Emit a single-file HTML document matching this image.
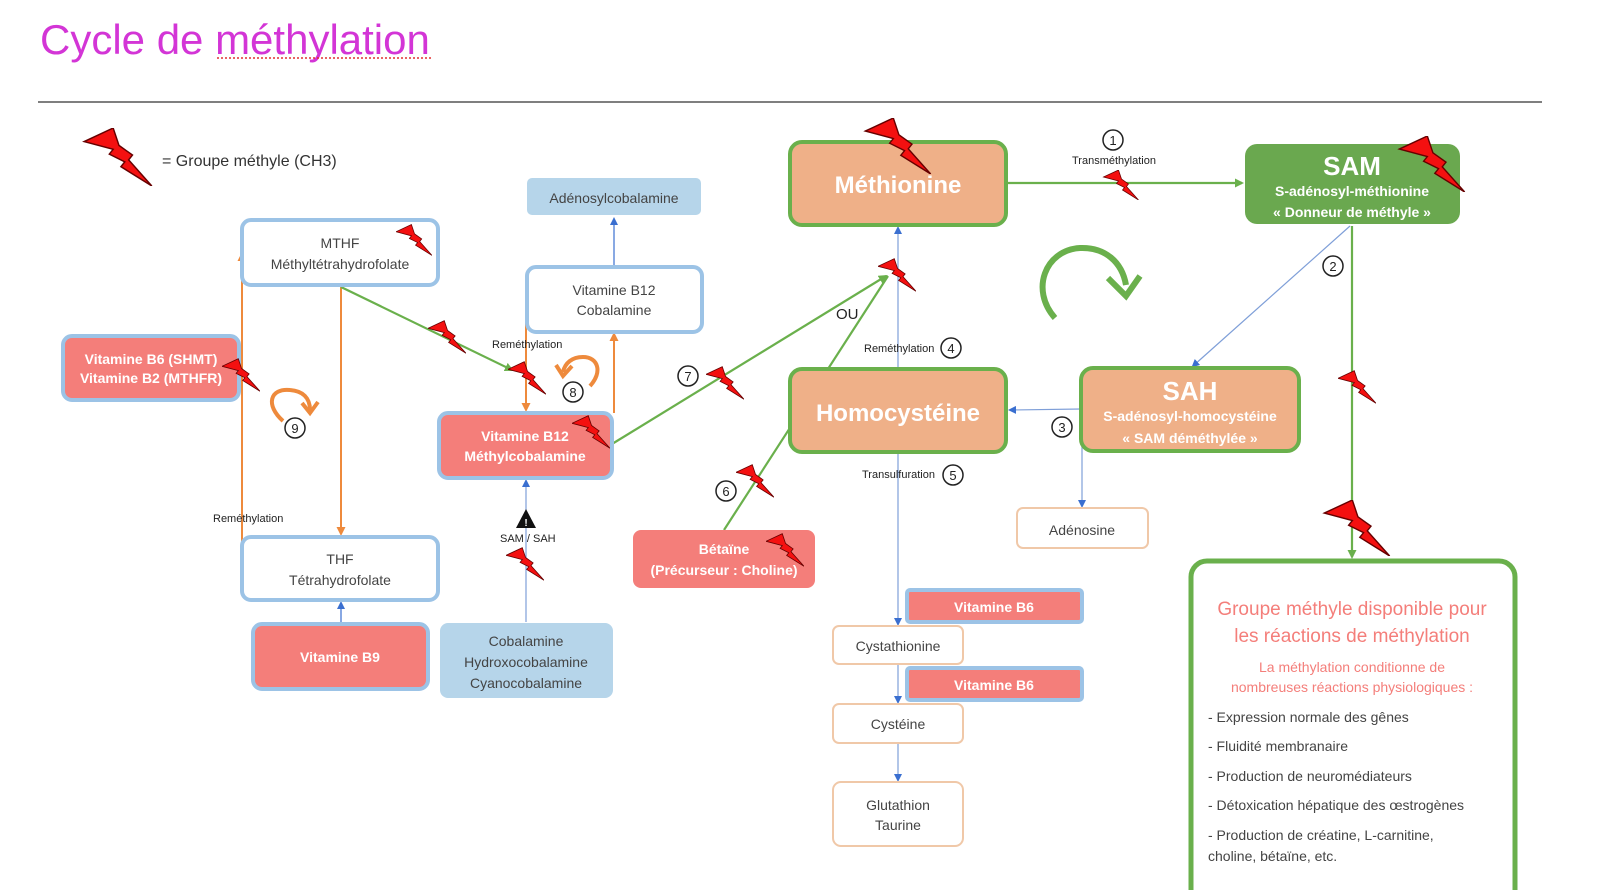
<!DOCTYPE html>
<html><head><meta charset="utf-8">
<style>
html,body{margin:0;padding:0;background:#fff;}
svg{display:block;font-family:"Liberation Sans",sans-serif;}
.t{font-size:14px;fill:#444;text-anchor:middle;}
.w{font-size:14px;fill:#fff;text-anchor:middle;font-weight:bold;}
.s{font-size:11px;fill:#222;}
.n{font-size:13px;fill:#222;text-anchor:middle;}
</style></head><body>
<svg width="1600" height="890" viewBox="0 0 1600 890" xmlns="http://www.w3.org/2000/svg">
<defs>
<symbol id="b" viewBox="0 0 70 60"><polygon points="0,14 30,0 36,18 50,28 46,33 70,60 38,40 42,35 26,27 30,22" fill="#f41010" stroke="#600" stroke-width="1.5"/></symbol>
<marker id="ab" markerWidth="8" markerHeight="8" refX="6" refY="4" orient="auto" markerUnits="userSpaceOnUse"><path d="M0,0 L8,4 L0,8z" fill="#3a6fd0"/></marker>
<marker id="ag" markerWidth="9" markerHeight="9" refX="7" refY="4.5" orient="auto" markerUnits="userSpaceOnUse"><path d="M0,0 L9,4.5 L0,9z" fill="#6ab04c"/></marker>
<marker id="ao" markerWidth="9" markerHeight="9" refX="7" refY="4.5" orient="auto" markerUnits="userSpaceOnUse"><path d="M0,0 L9,4.5 L0,9z" fill="#ee8a3c"/></marker>
</defs>

<text x="40" y="54" font-size="42" fill="#d335d6">Cycle de méthylation</text>
<line x1="217" y1="58" x2="431" y2="58" stroke="#e03030" stroke-width="1.5" stroke-dasharray="2,2"/>
<line x1="38" y1="102" x2="1542" y2="102" stroke="#555" stroke-width="1.5"/>

<use href="#b" x="82" y="128" width="72" height="58"/>
<text x="162" y="166" font-size="16" fill="#333">= Groupe méthyle (CH3)</text>

<line x1="242" y1="568" x2="242" y2="254" stroke="#ee8a3c" stroke-width="2" marker-end="url(#ao)"/>
<line x1="341" y1="287" x2="341" y2="534" stroke="#ee8a3c" stroke-width="2" marker-end="url(#ao)"/>
<line x1="526" y1="300" x2="526" y2="410" stroke="#ee8a3c" stroke-width="2" marker-end="url(#ao)"/>
<line x1="614" y1="413" x2="614" y2="334" stroke="#ee8a3c" stroke-width="2" marker-end="url(#ao)"/>
<line x1="614" y1="267" x2="614" y2="219" stroke="#3a6fd0" stroke-width="1.2" marker-end="url(#ab)"/>
<line x1="341" y1="624" x2="341" y2="603" stroke="#3a6fd0" stroke-width="1.2" marker-end="url(#ab)"/>
<line x1="526" y1="622" x2="526" y2="481" stroke="#7f9fd8" stroke-width="1.2" marker-end="url(#ab)"/>
<line x1="898" y1="369" x2="898" y2="228" stroke="#7f9fd8" stroke-width="1.2" marker-end="url(#ab)"/>
<line x1="898" y1="453" x2="898" y2="624" stroke="#7f9fd8" stroke-width="1.2" marker-end="url(#ab)"/>
<line x1="898" y1="664" x2="898" y2="702" stroke="#7f9fd8" stroke-width="1.2" marker-end="url(#ab)"/>
<line x1="898" y1="743" x2="898" y2="780" stroke="#7f9fd8" stroke-width="1.2" marker-end="url(#ab)"/>
<line x1="1081" y1="409" x2="1010" y2="410" stroke="#7f9fd8" stroke-width="1.2" marker-end="url(#ab)"/>
<line x1="1082" y1="409" x2="1082" y2="506" stroke="#7f9fd8" stroke-width="1.2" marker-end="url(#ab)"/>
<line x1="1350" y1="226" x2="1193" y2="366" stroke="#7f9fd8" stroke-width="1.2" marker-end="url(#ab)"/>
<line x1="341" y1="287" x2="512" y2="370" stroke="#6ab04c" stroke-width="2.2" marker-end="url(#ag)"/>
<line x1="612" y1="444" x2="886" y2="276" stroke="#6ab04c" stroke-width="2.2" marker-end="url(#ag)"/>
<line x1="724" y1="530" x2="888" y2="276" stroke="#6ab04c" stroke-width="2.2"/>
<line x1="1008" y1="183" x2="1242" y2="183" stroke="#6ab04c" stroke-width="2.2" marker-end="url(#ag)"/>
<line x1="1352" y1="226" x2="1352" y2="557" stroke="#6ab04c" stroke-width="2.2" marker-end="url(#ag)"/>

<rect x="242" y="220" width="196" height="65" rx="9" fill="#fff" stroke="#9cc3e6" stroke-width="4"/>
<text class="t" x="340" y="248">MTHF</text><text class="t" x="340" y="269">Méthyltétrahydrofolate</text>
<rect x="527" y="178" width="174" height="37" rx="5" fill="#b6d5ea"/>
<text class="t" x="614" y="203">Adénosylcobalamine</text>
<rect x="527" y="267" width="175" height="65" rx="9" fill="#fff" stroke="#9cc3e6" stroke-width="4"/>
<text class="t" x="614" y="295">Vitamine B12</text><text class="t" x="614" y="315">Cobalamine</text>
<rect x="63" y="336" width="176" height="64" rx="9" fill="#f47e7a" stroke="#9cc3e6" stroke-width="4"/>
<text class="w" x="151" y="364">Vitamine B6 (SHMT)</text><text class="w" x="151" y="383">Vitamine B2 (MTHFR)</text>
<rect x="439" y="413" width="173" height="65" rx="9" fill="#f47e7a" stroke="#9cc3e6" stroke-width="4"/>
<text class="w" x="525" y="441">Vitamine B12</text><text class="w" x="525" y="461">Méthylcobalamine</text>
<rect x="242" y="537" width="196" height="63" rx="9" fill="#fff" stroke="#9cc3e6" stroke-width="4"/>
<text class="t" x="340" y="564">THF</text><text class="t" x="340" y="585">Tétrahydrofolate</text>
<rect x="253" y="624" width="175" height="65" rx="9" fill="#f47e7a" stroke="#9cc3e6" stroke-width="4"/>
<text class="w" x="340" y="662">Vitamine B9</text>
<rect x="440" y="623" width="173" height="75" rx="8" fill="#b6d5ea"/>
<text class="t" x="526" y="646">Cobalamine</text><text class="t" x="526" y="667">Hydroxocobalamine</text><text class="t" x="526" y="688">Cyanocobalamine</text>
<rect x="633" y="530" width="182" height="58" rx="8" fill="#f47e7a"/>
<text class="w" x="724" y="554">Bétaïne</text><text class="w" x="724" y="575">(Précurseur : Choline)</text>

<rect x="790" y="142" width="216" height="83" rx="12" fill="#efb088" stroke="#6ab04c" stroke-width="4"/>
<text x="898" y="193" font-size="24" font-weight="bold" fill="#fff" text-anchor="middle">Méthionine</text>
<rect x="790" y="369" width="216" height="83" rx="12" fill="#efb088" stroke="#6ab04c" stroke-width="4"/>
<text x="898" y="421" font-size="24" font-weight="bold" fill="#fff" text-anchor="middle">Homocystéine</text>
<rect x="1245" y="144" width="215" height="80" rx="12" fill="#6aa84f"/>
<text x="1352" y="175" font-size="26" font-weight="bold" fill="#fff" text-anchor="middle">SAM</text>
<text class="w" x="1352" y="196">S-adénosyl-méthionine</text><text class="w" x="1352" y="217">« Donneur de méthyle »</text>
<rect x="1081" y="368" width="218" height="83" rx="12" fill="#efb088" stroke="#6ab04c" stroke-width="4"/>
<text x="1190" y="400" font-size="26" font-weight="bold" fill="#fff" text-anchor="middle">SAH</text>
<text class="w" x="1190" y="421">S-adénosyl-homocystéine</text><text class="w" x="1190" y="443">« SAM déméthylée »</text>

<rect x="1017" y="508" width="131" height="40" rx="6" fill="#fff" stroke="#f0c8a8" stroke-width="2"/>
<text class="t" x="1082" y="535">Adénosine</text>
<rect x="907" y="590" width="175" height="32" rx="3" fill="#f47e7a" stroke="#9cc3e6" stroke-width="4"/>
<text class="w" x="994" y="612">Vitamine B6</text>
<rect x="833" y="626" width="130" height="38" rx="6" fill="#fff" stroke="#f0c8a8" stroke-width="2"/>
<text class="t" x="898" y="651">Cystathionine</text>
<rect x="907" y="668" width="175" height="32" rx="3" fill="#f47e7a" stroke="#9cc3e6" stroke-width="4"/>
<text class="w" x="994" y="690">Vitamine B6</text>
<rect x="833" y="704" width="130" height="39" rx="6" fill="#fff" stroke="#f0c8a8" stroke-width="2"/>
<text class="t" x="898" y="729">Cystéine</text>
<rect x="833" y="782" width="130" height="64" rx="8" fill="#fff" stroke="#f0c8a8" stroke-width="2"/>
<text class="t" x="898" y="810">Glutathion</text><text class="t" x="898" y="830">Taurine</text>

<rect x="1191" y="561" width="324" height="345" rx="16" fill="#fff" stroke="#6ab04c" stroke-width="5"/>
<text x="1352" y="615" font-size="19" fill="#f47e7a" text-anchor="middle">Groupe méthyle disponible pour</text>
<text x="1352" y="642" font-size="19" fill="#f47e7a" text-anchor="middle">les réactions de méthylation</text>
<text x="1352" y="672" font-size="14" fill="#f47e7a" text-anchor="middle">La méthylation conditionne de</text>
<text x="1352" y="692" font-size="14" fill="#f47e7a" text-anchor="middle">nombreuses réactions physiologiques :</text>
<g font-size="14" fill="#444">
<text x="1208" y="722">- Expression normale des gênes</text>
<text x="1208" y="751">- Fluidité membranaire</text>
<text x="1208" y="781">- Production de neuromédiateurs</text>
<text x="1208" y="810">- Détoxication hépatique des œstrogènes</text>
<text x="1208" y="840">- Production de créatine, L-carnitine,</text>
<text x="1208" y="861">choline, bétaïne, etc.</text>
</g>

<text class="s" x="492" y="348">Reméthylation</text>
<text class="s" x="213" y="522">Reméthylation</text>
<text class="s" x="1072" y="164">Transméthylation</text>
<text class="s" x="864" y="352">Reméthylation</text>
<text class="s" x="862" y="478">Transulfuration</text>
<text class="s" x="500" y="542">SAM / SAH</text>
<text x="836" y="319" font-size="15" fill="#222">OU</text>
<polygon points="526,509 516,528 536,528" fill="#111"/>
<text x="526" y="526" font-size="10" fill="#fff" text-anchor="middle" font-weight="bold">!</text>

<g fill="#fff" stroke="#222" stroke-width="1.5">
<circle cx="1113" cy="140" r="10"/><circle cx="1333" cy="266" r="10"/><circle cx="1062" cy="427" r="10"/>
<circle cx="951" cy="348" r="10"/><circle cx="953" cy="475" r="10"/><circle cx="726" cy="491" r="10"/>
<circle cx="688" cy="376" r="10"/><circle cx="573" cy="392" r="10"/><circle cx="295" cy="428" r="10"/>
</g>
<g class="n">
<text class="n" x="1113" y="145">1</text><text class="n" x="1333" y="271">2</text><text class="n" x="1062" y="432">3</text>
<text class="n" x="951" y="353">4</text><text class="n" x="953" y="480">5</text><text class="n" x="726" y="496">6</text>
<text class="n" x="688" y="381">7</text><text class="n" x="573" y="397">8</text><text class="n" x="295" y="433">9</text>
</g>

<path d="M1055,318 C1030,290 1045,250 1080,248 C1105,247 1122,262 1126,285" fill="none" stroke="#6ab04c" stroke-width="6"/>
<path d="M1108,278 L1126,296 L1140,276" fill="none" stroke="#6ab04c" stroke-width="6"/>
<path d="M283,421 C265,405 270,388 290,390 C303,391 310,398 310,410" fill="none" stroke="#ee8a3c" stroke-width="4"/>
<path d="M302,403 L310,413 L318,402" fill="none" stroke="#ee8a3c" stroke-width="4"/>
<path d="M590,386 C603,372 598,357 583,357 C572,357 565,363 563,372" fill="none" stroke="#ee8a3c" stroke-width="4"/>
<path d="M556,365 L563,376 L572,366" fill="none" stroke="#ee8a3c" stroke-width="4"/>

<use href="#b" x="396" y="224" width="36" height="32"/>
<use href="#b" x="428" y="320" width="38" height="34"/>
<use href="#b" x="508" y="361" width="38" height="34"/>
<use href="#b" x="222" y="358" width="38" height="34"/>
<use href="#b" x="572" y="415" width="38" height="34"/>
<use href="#b" x="706" y="366" width="38" height="34"/>
<use href="#b" x="736" y="464" width="38" height="34"/>
<use href="#b" x="766" y="533" width="38" height="34"/>
<use href="#b" x="506" y="547" width="38" height="34"/>
<use href="#b" x="878" y="258" width="38" height="34"/>
<use href="#b" x="1102" y="170" width="38" height="30"/>
<use href="#b" x="862" y="118" width="72" height="56"/>
<use href="#b" x="1396" y="136" width="72" height="56"/>
<use href="#b" x="1338" y="370" width="38" height="34"/>
<use href="#b" x="1322" y="500" width="70" height="56"/>
</svg>
</body></html>
